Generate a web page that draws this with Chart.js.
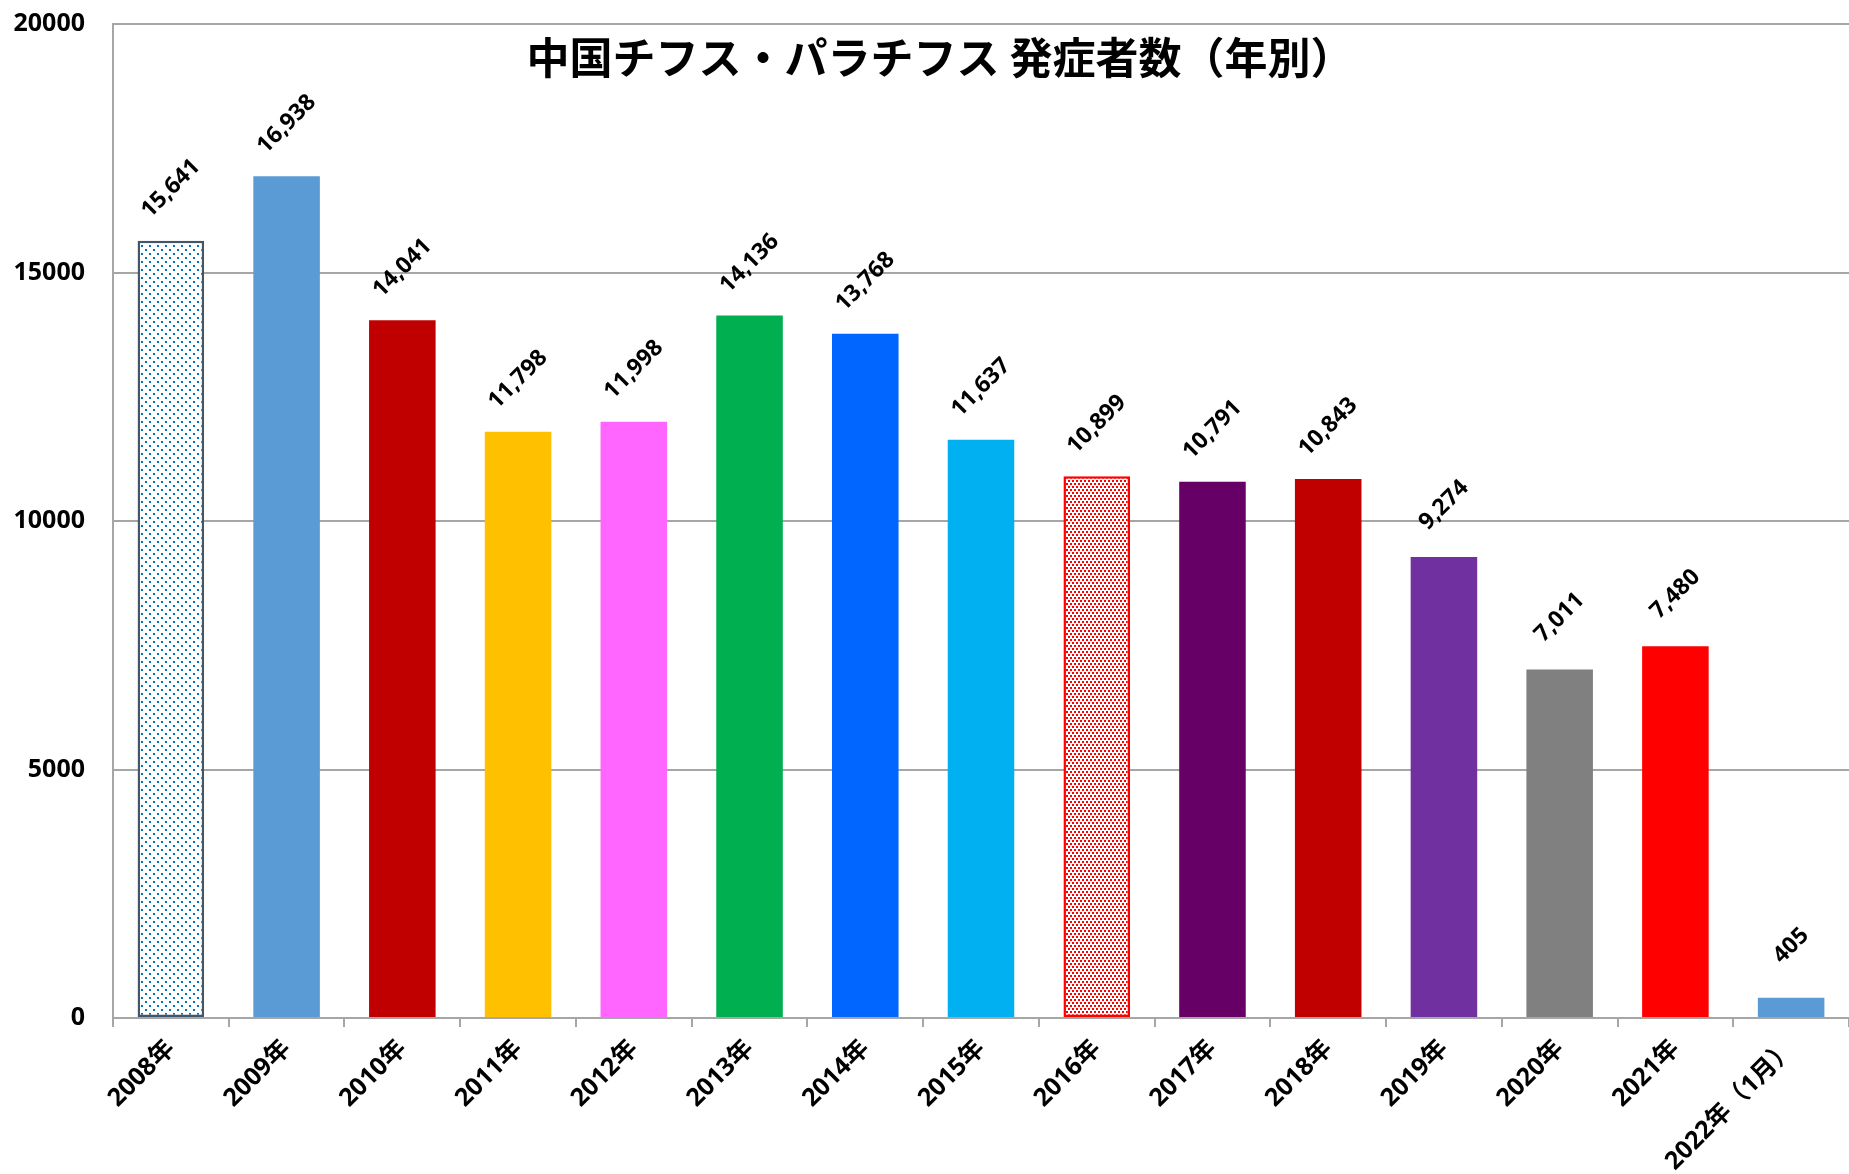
<!DOCTYPE html>
<html>
<head>
<meta charset="utf-8">
<script src="https://cdn.jsdelivr.net/npm/chart.js@4"></script>
<style>
html,body{margin:0;padding:0;background:#fff;}
#wrap{width:1849px;height:1174px;position:relative;}
</style>
</head>
<body>
<div id="wrap"><canvas id="c"></canvas></div>
<script>
const TITLE = "中国チフス・パラチフス 発症者数（年別）";
const categories = ["2008年","2009年","2010年","2011年","2012年","2013年","2014年","2015年","2016年","2017年","2018年","2019年","2020年","2021年","2022年（1月）"];
const cases = [15641,16938,14041,11798,11998,14136,13768,11637,10899,10791,10843,9274,7011,7480,405];
const barColors = ["PATTERN_BLUE","#5B9BD5","#C00000","#FFC000","#FF66FF","#00B050","#0066FF","#00B0F0","PATTERN_RED","#660066","#C00000","#7030A0","#808080","#FF0000","#5B9BD5"];
const yTicks = [0,5000,10000,15000,20000];

const NUMFONT = "'Noto Sans', 'Noto Sans CJK JP', sans-serif";

function makePattern(dot, tw, th, dots){
  const p = document.createElement('canvas');
  p.width = tw; p.height = th;
  const g = p.getContext('2d');
  g.fillStyle = '#fff'; g.fillRect(0,0,tw,th);
  g.fillStyle = dot;
  dots.forEach(d=>g.fillRect(d[0],d[1],2,2));
  return g.createPattern(p,'repeat');
}
const ctx = document.getElementById('c').getContext('2d');
const patBlue = makePattern('#0070C0', 8, 8, [[1,1],[5,5]]);
const patRed = makePattern('#FF0000', 4, 6, [[0,0],[2,3]]);

const bg = barColors.map(c => c==="PATTERN_BLUE"?patBlue:(c==="PATTERN_RED"?patRed:c));
const bc = barColors.map(c => c==="PATTERN_BLUE"?"#44546A":(c==="PATTERN_RED"?"#FF0000":c));
const bw = barColors.map(c => c.startsWith("PATTERN")?2.5:0);

const labelPlugin = {
  id:'valueLabels',
  afterDatasetsDraw(chart){
    const c = chart.ctx;
    const meta = chart.getDatasetMeta(0);
    c.save();
    c.font = "bold 23px " + NUMFONT;
    c.fillStyle = "#000";
    c.textAlign = "center";
    c.textBaseline = "middle";
    meta.data.forEach((el,i)=>{
      c.save();
      c.translate(el.x, el.y - 52);
      c.rotate(-Math.PI/4);
      c.fillText(cases[i].toLocaleString('en-US'), 0, 0);
      c.restore();
    });
    c.restore();
  }
};
const titlePlugin = {
  id:'innerTitle',
  afterDraw(chart){
    const c = chart.ctx;
    c.save();
    c.font = "bold 43px 'Noto Sans CJK JP', sans-serif";
    c.fillStyle = "#000";
    c.textAlign = "center";
    c.textBaseline = "middle";
    c.fillText(TITLE, 940, 58);
    c.restore();
  }
};

new Chart(ctx, {
  type:'bar',
  data:{
    labels:categories,
    datasets:[{
      data:cases,
      backgroundColor:bg,
      borderColor:bc,
      borderWidth:bw,
      borderSkipped:false,
      categoryPercentage:1,
      barPercentage:0.575
    }]
  },
  options:{
    responsive:true,
    maintainAspectRatio:false,
    animation:false,
    layout:{padding:{top:24,right:0,left:0,bottom:0}},
    plugins:{legend:{display:false},tooltip:{enabled:false},title:{display:false}},
    scales:{
      x:{
        offset:true,
        grid:{display:true,drawOnChartArea:false,drawTicks:true,tickLength:9,color:'#A6A6A6',lineWidth:2,offset:true},
        border:{display:true,color:'#A6A6A6',width:2},
        ticks:{maxRotation:45,minRotation:45,autoSkip:false,padding:7,color:'#000',font:{family:NUMFONT,size:25,weight:'bold'}},
        afterFit(s){ s.height = 156; s.paddingLeft = 0; s.paddingRight = 0; }
      },
      y:{
        min:0,max:20000,
        afterBuildTicks(s){ s.ticks = yTicks.map(v=>({value:v})); },
        grid:{color:'#A6A6A6',lineWidth:2,drawTicks:false,tickLength:0},
        border:{display:true,color:'#A6A6A6',width:2},
        ticks:{padding:28,color:'#000',font:{family:NUMFONT,size:25,weight:'bold'},callback:v=>String(v)},
        afterFit(s){ s.width = 113; s.paddingTop = 0; s.paddingBottom = 0; }
      }
    }
  },
  plugins:[labelPlugin,titlePlugin]
});
</script>
</body>
</html>
